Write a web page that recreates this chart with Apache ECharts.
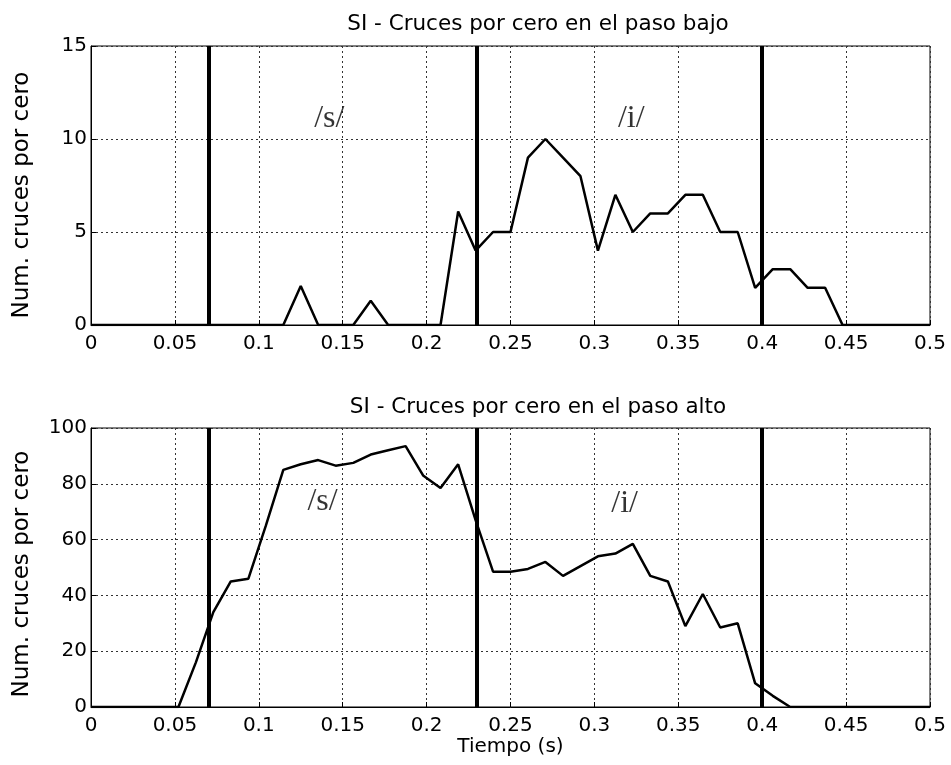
<!DOCTYPE html>
<html>
<head>
<meta charset="utf-8">
<script src="https://cdn.jsdelivr.net/npm/echarts@6/dist/echarts.min.js"></script>
<style>
  html, body { margin: 0; padding: 0; background: #fff; }
  #chart { width: 951px; height: 765px; }
</style>
</head>
<body>
<div id="chart"></div>
<script>
// tiempos de trama (s)
const times = [0, 0.0104, 0.0208, 0.0313, 0.0417, 0.0521, 0.0625, 0.0729, 0.0833, 0.0938,
  0.1042, 0.1146, 0.125, 0.1354, 0.1458, 0.1563, 0.1667, 0.1771, 0.1875, 0.1979,
  0.2083, 0.2188, 0.2292, 0.2396, 0.25, 0.2604, 0.2708, 0.2813, 0.2917, 0.3021,
  0.3125, 0.3229, 0.3333, 0.3438, 0.3542, 0.3646, 0.375, 0.3854, 0.3958, 0.4063,
  0.4167, 0.4271, 0.4375, 0.4479, 0.4583, 0.4688, 0.4792, 0.4896, 0.5];

// cruces por cero, paso bajo
const lowBand = [0, 0, 0, 0, 0, 0, 0, 0, 0, 0,
  0, 0, 2.1, 0, 0, 0, 1.3, 0, 0, 0,
  0, 6.1, 4, 5, 5, 9, 10, 9, 8, 4,
  7, 5, 6, 6, 7, 7, 5, 5, 2, 3,
  3, 2, 2, 0, 0, 0, 0, 0, 0];

// cruces por cero, paso alto
const highBand = [0, 0, 0, 0, 0, 0, 16, 34, 45, 46,
  65, 85, 87, 88.5, 86.5, 87.5, 90.5, 92, 93.5, 83,
  78.5, 87, 67, 48.5, 48.5, 49.5, 52, 47, 50.5, 54,
  55, 58.5, 47, 45, 29, 40.5, 28.5, 30, 8.5, 4,
  0, 0, 0, 0, 0, 0, 0, 0, 0];

// limites de segmentos (s)
const boundaries = [0.068, 0.23, 0.4];

// etiquetas de fonema [t, valor, texto]
const lowLabels = [[0.142, 11.1, '/s/'], [0.322, 11.1, '/i/']];
const highLabels = [[0.138, 73.5, '/s/'], [0.318, 73, '/i/']];

const titles = ['SI - Cruces por cero en el paso bajo', 'SI - Cruces por cero en el paso alto'];
const yName = 'Num. cruces por cero';

const font = 'DejaVu Sans, sans-serif';

const pairs = (vals) => times.map((t, i) => [t, vals[i]]);

const xAxisBase = (idx, withName) => ({
  type: 'value',
  gridIndex: idx,
  min: 0,
  max: 0.5,
  interval: 0.05,
  name: withName ? 'Tiempo (s)' : '',
  nameLocation: 'middle',
  nameGap: 28,
  nameTextStyle: { color: '#000', fontSize: 20, fontFamily: font },
  axisLine: { show: true, lineStyle: { color: '#000', width: 1 } },
  axisTick: { show: true, inside: true, length: 5, lineStyle: { color: '#000' } },
  axisLabel: {
    color: '#000', fontSize: 20, fontFamily: font, margin: 9,
    formatter: v => String(+v.toFixed(2))
  },
  splitLine: { show: true, lineStyle: { color: '#333', type: [2, 3], width: 1 } }
});

const yAxisBase = (idx, max, interval) => ({
  type: 'value',
  gridIndex: idx,
  min: 0,
  max: max,
  interval: interval,
  axisLine: { show: true, lineStyle: { color: '#000', width: 1 } },
  axisTick: { show: true, inside: true, length: 5, lineStyle: { color: '#000' } },
  axisLabel: { color: '#000', fontSize: 20, fontFamily: font, margin: 4 },
  splitLine: { show: true, lineStyle: { color: '#333', type: [2, 3], width: 1 } }
});

const lineSeries = (idx, vals) => ({
  type: 'line',
  xAxisIndex: idx,
  yAxisIndex: idx,
  data: pairs(vals),
  showSymbol: false,
  symbol: 'none',
  lineStyle: { color: '#000', width: 2.5 },
  z: 3,
  markLine: {
    silent: true,
    symbol: 'none',
    label: { show: false },
    lineStyle: { color: '#000', width: 4, type: 'solid' },
    data: boundaries.map(b => ({ xAxis: b }))
  }
});

const labelSeries = (idx, items) => ({
  type: 'scatter',
  xAxisIndex: idx,
  yAxisIndex: idx,
  symbolSize: 0,
  data: items,
  label: {
    show: true,
    position: 'inside',
    formatter: p => p.data[2],
    color: '#000',
    fontSize: 32,
    fontFamily: 'Liberation Serif, Times New Roman, serif'
  },
  z: 4
});

const yNameText = (y) => ({
  type: 'text',
  x: 22,
  y: y,
  rotation: Math.PI / 2,
  style: {
    text: yName, fill: '#000', fontSize: 23, fontFamily: font,
    textAlign: 'center', textVerticalAlign: 'middle'
  }
});

const chart = echarts.init(document.getElementById('chart'));
chart.setOption({
  backgroundColor: '#fff',
  animation: false,
  title: [
    { text: titles[0], left: 533, top: 8, textAlign: 'center',
      textStyle: { color: '#000', fontSize: 21.5, fontWeight: 'normal', fontFamily: font } },
    { text: titles[1], left: 533, top: 391, textAlign: 'center',
      textStyle: { color: '#000', fontSize: 21.5, fontWeight: 'normal', fontFamily: font } }
  ],
  graphic: [yNameText(195), yNameText(574)],
  grid: [
    { left: 91, top: 46, width: 839, height: 279, show: true, borderColor: '#000', borderWidth: 1 },
    { left: 91, top: 428, width: 839, height: 279, show: true, borderColor: '#000', borderWidth: 1 }
  ],
  xAxis: [xAxisBase(0, false), xAxisBase(1, true)],
  yAxis: [yAxisBase(0, 15, 5), yAxisBase(1, 100, 20)],
  series: [
    lineSeries(0, lowBand),
    lineSeries(1, highBand),
    labelSeries(0, lowLabels),
    labelSeries(1, highLabels)
  ]
});
</script>
</body>
</html>
